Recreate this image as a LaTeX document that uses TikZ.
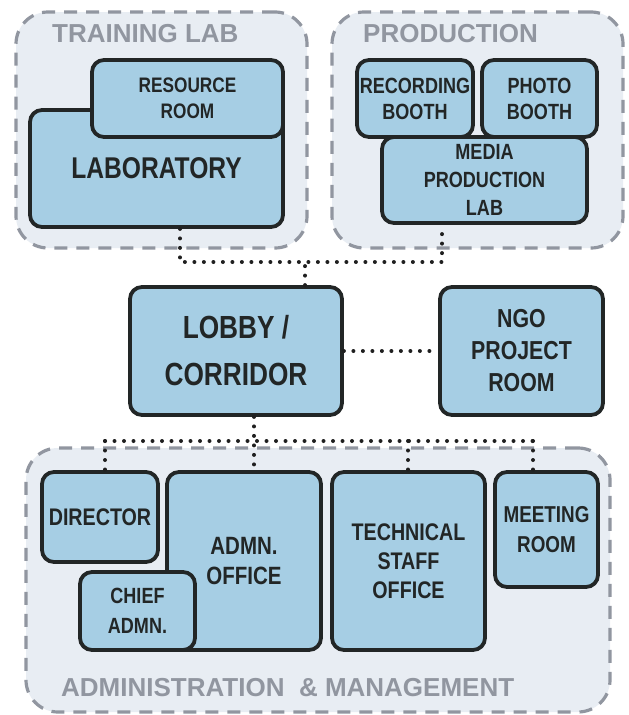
\documentclass[tikz,border=0pt]{standalone}
\usepackage{fontspec}
\setmainfont{Liberation Sans}
\newfontfamily\roomfont{Liberation Sans}[FakeStretch=0.82]
\definecolor{roomfill}{RGB}{166,206,228}
\definecolor{roomdraw}{RGB}{34,38,38}
\definecolor{groupfill}{RGB}{232,237,243}
\definecolor{groupdraw}{RGB}{145,150,160}
\definecolor{titlegray}{RGB}{145,150,160}
\tikzset{
  room/.style={draw=roomdraw, fill=roomfill, line width=3.8pt, rounded corners=12pt,
    align=center, text=roomdraw, inner sep=0pt},
  fs/.style 2 args={font=\roomfont\bfseries\fontsize{#1}{#2}\selectfont},
  grp/.style={draw=groupdraw, fill=groupfill, line width=3.2pt,
    dash pattern=on 13pt off 9pt, rounded corners=32pt, inner sep=0pt},
  grptitle/.style={text=titlegray, font=\bfseries\fontsize{26}{30}\selectfont,
    inner sep=0pt, anchor=west},
  dots/.style={draw=black!88, line width=4pt, line cap=round,
    dash pattern=on 0pt off 9.5pt},
}
\begin{document}
\begin{tikzpicture}[x=1pt,y=-1pt]
\useasboundingbox[fill=white] (0,0) rectangle (629,715);
% groups
\node[grp, minimum width=291, minimum height=236] (training) at (161.5,130) {};
\node[grp, minimum width=291, minimum height=236] (production) at (477.5,130) {};
\node[grp, minimum width=584, minimum height=264] (admin) at (318,580) {};
\node[grptitle] (ttrain) at (52,34) {TRAINING LAB};
\node[grptitle] (tprod) at (363,34) {PRODUCTION};
\node[grptitle] (tadmin) at (61,688) {ADMINISTRATION \ \& MANAGEMENT};
% junction coordinates
\coordinate (tl) at (180,262);
\coordinate (tr) at (442,262);
\coordinate (tm) at (305,262);
\coordinate (bl) at (105,441);
\coordinate (bm) at (254,441);
\coordinate (bt) at (408,441);
\coordinate (br) at (533,441);
% rooms
\node[room, fs={30}{36}, minimum width=253, minimum height=117] (lab) at (156.5,168.5) {LABORATORY};
\node[room, fs={21}{26}, minimum width=191, minimum height=77] (resource) at (187.5,98.5) {RESOURCE\\ROOM};
\node[room, fs={22}{26}, minimum width=116, minimum height=77] (recording) at (415,98.5) {RECORDING\\BOOTH};
\node[room, fs={22}{26}, minimum width=115, minimum height=77] (photo) at (539.5,98.5) {PHOTO\\BOOTH};
\node[room, fs={22}{28}, minimum width=205, minimum height=86] (media) at (484.5,180) {MEDIA\\PRODUCTION\\LAB};
\node[room, fs={32}{47}, minimum width=212, minimum height=128] (lobby) at (236,351) {LOBBY /\\CORRIDOR};
\node[room, fs={26}{32}, minimum width=163, minimum height=128] (ngo) at (521.5,351) {NGO\\PROJECT\\ROOM};
\node[room, fs={24}{29}, minimum width=116, minimum height=90] (director) at (100,517) {DIRECTOR};
\node[room, fs={25}{30}, minimum width=154, minimum height=178] (admn) at (244,561) {ADMN.\\OFFICE};
\node[room, fs={22}{30}, minimum width=115, minimum height=78] (chief) at (137.5,611) {CHIEF\\ADMN.};
\node[room, fs={24}{29}, minimum width=153, minimum height=178] (tech) at (408.5,561) {TECHNICAL\\STAFF\\OFFICE};
\node[room, fs={23}{30}, minimum width=103, minimum height=115] (meeting) at (546.5,529.5) {MEETING\\ROOM};
% connectors
\draw[dots] (lab.south -| tl) -- (tl) -- (tr) -- (media.south -| tr);
\draw[dots] (lobby.north -| tm) -- (tm);
\draw[dots] (lobby.east) -- (ngo.west);
\draw[dots] (lobby.south -| bm) -- (bm) -- (admn.north -| bm);
\draw[dots] (bl) -- (br);
\draw[dots] (bl) -- (director.north -| bl);
\draw[dots] (bt) -- (tech.north -| bt);
\draw[dots] (br) -- (meeting.north -| br);
\end{tikzpicture}
\end{document}
